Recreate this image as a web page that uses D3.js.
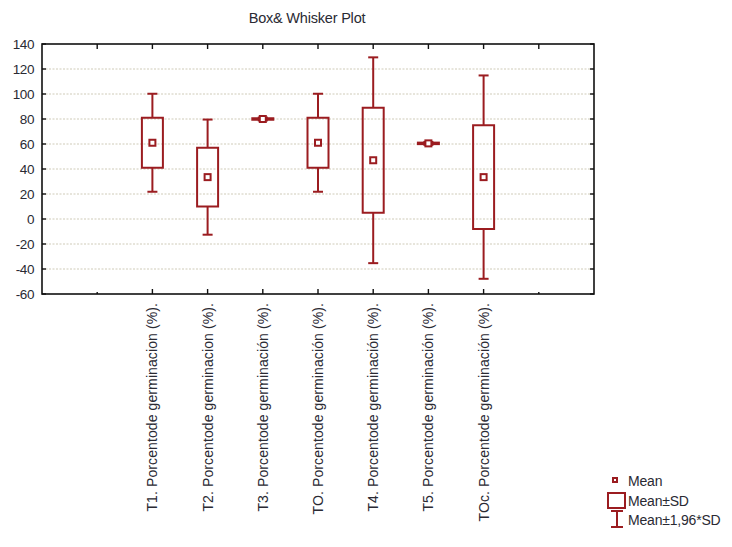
<!DOCTYPE html>
<html>
<head>
<meta charset="utf-8">
<script src="https://cdn.jsdelivr.net/npm/d3@7"></script>
<style>
  body { margin: 0; background: #fff; }
  text { font-family: "Liberation Sans", Arial, sans-serif; fill: #2a2a33; }
</style>
</head>
<body>
<div id="chart"></div>
<script>
// categories and their stats
var categories = [
    "T1. Porcentode germinacion (%).",
    "T2. Porcentode germinacion (%).",
    "T3. Porcentode germinación (%).",
    "TO. Porcentode germinación (%).",
    "T4. Porcentode germinación (%).",
    "T5. Porcentode germinación (%).",
    "TOc. Porcentode germinación (%)."
];
var means = [61, 33.5, 80, 61, 47, 60.5, 33.5];
var sds = [20, 23.5, 0.6, 20, 42, 0.6, 41.5];
var yTicks = [140, 120, 100, 80, 60, 40, 20, 0, -20, -40, -60];
var legendLabels = ["Mean", "Mean±SD", "Mean±1,96*SD"];

var W = 732, H = 547;
var red = "#9b1c20";
var margin = {top: 44, right: 138, bottom: 253, left: 42};

var svg = d3.select("#chart").append("svg")
    .attr("width", W)
    .attr("height", H);

// x positions: 11 slots, categories live in slots 2..8
var x = d3.scaleLinear().domain([0, 10]).range([margin.left, W - margin.right]);
var y = d3.scaleLinear().domain([-60, 140]).range([H - margin.bottom, margin.top]);

var x0 = x(0), x1 = x(10), y0 = y(140), y1 = y(-60);

// title
svg.append("text")
    .attr("x", 307).attr("y", 23)
    .attr("text-anchor", "middle")
    .style("font-size", "14.5px")
    .style("letter-spacing", "-0.2px")
    .text("Box& Whisker Plot");

// dotted grid
svg.selectAll(".grid")
    .data(yTicks.filter(function (d) { return d > -60 && d < 140; }))
    .enter().append("line")
    .attr("x1", x0).attr("x2", x1)
    .attr("y1", function (d) { return y(d); })
    .attr("y2", function (d) { return y(d); })
    .attr("stroke", "#cfcbb8")
    .attr("stroke-width", 1)
    .attr("stroke-dasharray", "2,1.5");

// frame
svg.append("rect")
    .attr("x", x0).attr("y", y0)
    .attr("width", x1 - x0).attr("height", y1 - y0)
    .attr("fill", "none")
    .attr("stroke", "#111")
    .attr("stroke-width", 1.6);

// y ticks, inward on both sides
var yAxisG = svg.append("g");
yTicks.forEach(function (t) {
    yAxisG.append("line")
        .attr("x1", x0).attr("x2", x0 + 4)
        .attr("y1", y(t)).attr("y2", y(t))
        .attr("stroke", "#111").attr("stroke-width", 1.4);
    yAxisG.append("line")
        .attr("x1", x1).attr("x2", x1 - 4)
        .attr("y1", y(t)).attr("y2", y(t))
        .attr("stroke", "#111").attr("stroke-width", 1.4);
    yAxisG.append("text")
        .attr("x", x0 - 8).attr("y", y(t))
        .attr("dy", "0.35em")
        .attr("text-anchor", "end")
        .style("font-size", "13.5px")
        .style("letter-spacing", "-0.4px")
        .text(t);
});

// x ticks: top at all inner slots, bottom at the categories
d3.range(1, 10).forEach(function (i) {
    svg.append("line")
        .attr("x1", x(i)).attr("x2", x(i))
        .attr("y1", y0).attr("y2", y0 + 5)
        .attr("stroke", "#111").attr("stroke-width", 1.4);
    var isCat = i >= 2 && i <= 8;
    svg.append("line")
        .attr("x1", x(i)).attr("x2", x(i))
        .attr("y1", y1).attr("y2", y1 - (isCat ? 5 : 2))
        .attr("stroke", "#111").attr("stroke-width", 1.4);
});

// category labels, rotated
svg.selectAll(".xlab")
    .data(categories)
    .enter().append("text")
    .attr("transform", function (d, i) {
        return "translate(" + x(i + 2) + "," + (y1 + 9) + ") rotate(-90)";
    })
    .attr("dy", "0.35em")
    .attr("text-anchor", "end")
    .style("font-size", "14px")
    .style("letter-spacing", "0.1px")
    .text(function (d) { return d; });

// boxes and whiskers
var boxW = 21, capW = 10, markS = 6;
var g = svg.append("g");
categories.forEach(function (c, i) {
    var cx = x(i + 2);
    var m = means[i], s = sds[i];
    var wTop = y(m + 1.96 * s), wBot = y(m - 1.96 * s);
    var bTop = y(m + s), bBot = y(m - s);

    g.append("line")
        .attr("x1", cx).attr("x2", cx)
        .attr("y1", wTop).attr("y2", bTop)
        .attr("stroke", red).attr("stroke-width", 2);
    g.append("line")
        .attr("x1", cx).attr("x2", cx)
        .attr("y1", bBot).attr("y2", wBot)
        .attr("stroke", red).attr("stroke-width", 2);
    [wTop, wBot].forEach(function (yy) {
        g.append("line")
            .attr("x1", cx - capW / 2).attr("x2", cx + capW / 2)
            .attr("y1", yy).attr("y2", yy)
            .attr("stroke", red).attr("stroke-width", 2);
    });
    g.append("rect")
        .attr("x", cx - boxW / 2).attr("y", bTop)
        .attr("width", boxW).attr("height", Math.max(bBot - bTop, 0.5))
        .attr("fill", "none")
        .attr("stroke", red).attr("stroke-width", 2);
    g.append("rect")
        .attr("x", cx - markS / 2).attr("y", y(m) - markS / 2)
        .attr("width", markS).attr("height", markS)
        .attr("fill", "#fff")
        .attr("stroke", red).attr("stroke-width", 2);
});

// legend
var lg = svg.append("g");
lg.append("rect")
    .attr("x", 613).attr("y", 478).attr("width", 4).attr("height", 4)
    .attr("fill", "#fff").attr("stroke", red).attr("stroke-width", 2);
lg.append("rect")
    .attr("x", 608).attr("y", 493).attr("width", 17).attr("height", 15)
    .attr("fill", "none").attr("stroke", red).attr("stroke-width", 2);
lg.append("line").attr("x1", 617).attr("x2", 617).attr("y1", 511).attr("y2", 527)
    .attr("stroke", red).attr("stroke-width", 2);
lg.append("line").attr("x1", 611).attr("x2", 623).attr("y1", 511).attr("y2", 511)
    .attr("stroke", red).attr("stroke-width", 2);
lg.append("line").attr("x1", 611).attr("x2", 623).attr("y1", 527).attr("y2", 527)
    .attr("stroke", red).attr("stroke-width", 2);

var legendY = [481, 501, 520];
legendLabels.forEach(function (l, i) {
    lg.append("text")
        .attr("x", 628).attr("y", legendY[i])
        .attr("dy", "0.35em")
        .style("font-size", "14px")
        .style("letter-spacing", "-0.2px")
        .text(l);
});
</script>
</body>
</html>
